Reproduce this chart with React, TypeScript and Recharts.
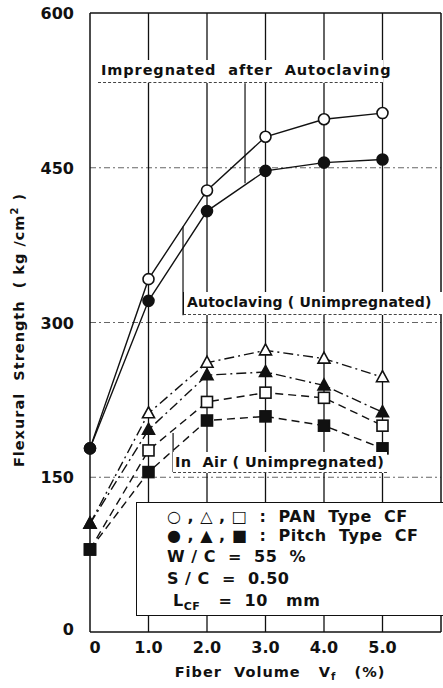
import { LineChart, Line, XAxis, YAxis, ReferenceLine } from "recharts";

const fiberVolume = [0, 1, 2, 3, 4, 5];
const panImpregnated = [178, 342, 428, 480, 497, 503];
const pitchImpregnated = [178, 321, 408, 447, 455, 458];
const panAutoclaved = [105, 212, 261, 273, 265, 247];
const pitchAutoclaved = [105, 196, 249, 252, 239, 213];
const panInAir = [80, 176, 223, 232, 227, 200];
const pitchInAir = [80, 155, 205, 209, 200, 178];

const xTicks = [0, 1, 2, 3, 4, 5];
const xTickLabels = ["0", "1.0", "2.0", "3.0", "4.0", "5.0"];
const yTicks = [0, 150, 300, 450, 600];
const gridY = [150, 300, 450];
const gridX = [1, 2, 3, 4, 5];

const data = fiberVolume.map((v, i) => ({
  v,
  panImp: panImpregnated[i],
  pitchImp: pitchImpregnated[i],
  panAuto: panAutoclaved[i],
  pitchAuto: pitchAutoclaved[i],
  panAir: panInAir[i],
  pitchAir: pitchInAir[i],
}));

const FONT = "'DejaVu Sans', sans-serif";
const INK = "#111";

function makeDot(kind: string, filled: boolean) {
  return (p: any) => {
    const { cx, cy, index } = p;
    const fill = filled ? INK : "#fff";
    const key = `${kind}-${filled}-${index}`;
    if (cx == null || cy == null) return <g key={key} />;
    if (kind === "circle") return <circle key={key} cx={cx} cy={cy} r={5.5} fill={fill} stroke={INK} strokeWidth={1.6} />;
    if (kind === "tri")
      return (
        <polygon
          key={key}
          points={`${cx},${cy - 6.5} ${cx - 6},${cy + 4.5} ${cx + 6},${cy + 4.5}`}
          fill={fill}
          stroke={INK}
          strokeWidth={1.6}
        />
      );
    return <rect key={key} x={cx - 5.5} y={cy - 5.5} width={11} height={11} fill={fill} stroke={INK} strokeWidth={1.6} />;
  };
}

const XTick = (p: any) => {
  const { x, y, payload } = p;
  const i = xTicks.indexOf(payload.value);
  return (
    <text x={x + (i === 0 ? 5 : 0)} y={y + 13} textAnchor="middle" fontFamily={FONT} fontWeight="bold" fontSize={16} fill={INK}>
      {xTickLabels[i]}
    </text>
  );
};

const YTick = (p: any) => {
  const { x, y, payload } = p;
  return (
    <text x={x - 8} y={y + 6 - (payload.value === 0 ? 3 : 0)} textAnchor="end" fontFamily={FONT} fontWeight="bold" fontSize={16} fill={INK}>
      {payload.value}
    </text>
  );
};

const labelStyle: React.CSSProperties = {
  position: "absolute",
  background: "#fff",
  fontFamily: FONT,
  fontWeight: "bold",
  fontSize: 14.5,
  color: INK,
  whiteSpace: "pre",
  lineHeight: "20px",
  letterSpacing: 0.9,
};

export default function App() {
  return (
    <div style={{ position: "absolute", left: 0, top: 0, width: 443, height: 688, overflow: "hidden", background: "#fff" }}>
      <LineChart width={443} height={688} data={data} margin={{ top: 13, right: 2, left: 0, bottom: 0 }}>
        {gridY.map((g) => (
          <ReferenceLine key={`gy${g}`} y={g} stroke="#666" strokeWidth={1} strokeDasharray="6 3 2 3" />
        ))}
        {gridX.map((g) => (
          <ReferenceLine key={`gx${g}`} x={g} stroke={INK} strokeWidth={1.3} />
        ))}
        <ReferenceLine y={600} stroke={INK} strokeWidth={1.5} />
        <ReferenceLine x={6} stroke={INK} strokeWidth={1.5} />
        <ReferenceLine segment={[{ x: 2.65, y: 532 }, { x: 2.65, y: 435 }]} stroke={INK} strokeWidth={1.2} />
        <ReferenceLine segment={[{ x: 1.59, y: 393 }, { x: 1.59, y: 307 }]} stroke={INK} strokeWidth={1.2} />
        <ReferenceLine segment={[{ x: 1.42, y: 193 }, { x: 1.42, y: 155 }]} stroke={INK} strokeWidth={1.2} />
        <XAxis
          dataKey="v"
          type="number"
          domain={[0, 6]}
          ticks={xTicks}
          height={56}
          tick={<XTick />}
          tickLine={false}
          axisLine={{ stroke: INK, strokeWidth: 1.5 }}
        />
        <YAxis
          type="number"
          domain={[0, 600]}
          ticks={yTicks}
          width={90}
          tick={<YTick />}
          tickLine={false}
          axisLine={{ stroke: INK, strokeWidth: 1.5 }}
        />
        <Line dataKey="panImp" stroke={INK} strokeWidth={1.4} dot={makeDot("circle", false)} isAnimationActive={false} />
        <Line dataKey="pitchImp" stroke={INK} strokeWidth={1.4} dot={makeDot("circle", true)} isAnimationActive={false} />
        <Line dataKey="panAuto" stroke={INK} strokeWidth={1.4} strokeDasharray="10 4 2 4" dot={makeDot("tri", false)} isAnimationActive={false} />
        <Line dataKey="pitchAuto" stroke={INK} strokeWidth={1.4} strokeDasharray="10 4 2 4" dot={makeDot("tri", true)} isAnimationActive={false} />
        <Line dataKey="panAir" stroke={INK} strokeWidth={1.4} strokeDasharray="8 5" dot={makeDot("sq", false)} isAnimationActive={false} />
        <Line dataKey="pitchAir" stroke={INK} strokeWidth={1.4} strokeDasharray="8 5" dot={makeDot("sq", true)} isAnimationActive={false} />
      </LineChart>

      <div style={{ ...labelStyle, left: 98, top: 60, width: 282, height: 22, borderBottom: "1px dashed #444", paddingLeft: 3 }}>
        {"Impregnated  after  Autoclaving"}
      </div>
      <div
        style={{
          ...labelStyle,
          left: 183,
          top: 292,
          width: 265,
          height: 22,
          borderLeft: "1px solid #111",
          borderBottom: "1px dashed #444",
          paddingLeft: 3,
          fontSize: 14,
          letterSpacing: 0.2,
        }}
      >
        {"Autoclaving ( Unimpregnated)"}
      </div>
      <div style={{ ...labelStyle, left: 173, top: 452, width: 212, height: 20, borderBottom: "1px dashed #444", paddingLeft: 2, letterSpacing: 0.4 }}>
        {"In  Air ( Unimpregnated)"}
      </div>

      <div
        style={{
          position: "absolute",
          left: 136,
          top: 502,
          width: 330,
          height: 114,
          background: "#fff",
          border: "1.5px solid #111",
          fontFamily: FONT,
          fontWeight: "bold",
          fontSize: 16,
          color: INK,
          whiteSpace: "pre",
          letterSpacing: 0.5,
          lineHeight: "22px",
          paddingLeft: 30,
          paddingTop: 4,
          boxSizing: "border-box",
        }}
      >
        <div style={{ lineHeight: "19px" }}>{"○ , △ , □  :  PAN  Type  CF"}</div>
        <div style={{ lineHeight: "20px" }}>{"● , ▲ , ■  :  Pitch  Type  CF"}</div>
        <div>{"W / C  =  55  %"}</div>
        <div>{"S / C  =  0.50"}</div>
        <div>
          {" L"}
          <sub style={{ fontSize: 11, fontWeight: "bold" }}>CF</sub>
          {"   =  10   mm"}
        </div>
      </div>

      <div
        style={{
          position: "absolute",
          left: 18,
          top: 330,
          transform: "translate(-50%, -50%) rotate(-90deg)",
          fontFamily: FONT,
          fontWeight: "bold",
          fontSize: 14.5,
          color: INK,
          whiteSpace: "pre",
          letterSpacing: 1,
        }}
      >
        Flexural  Strength  ( kg /cm<sup style={{ fontSize: 10 }}>2</sup> )
      </div>
      <div
        style={{
          position: "absolute",
          left: 280,
          top: 673,
          transform: "translate(-50%, -50%)",
          fontFamily: FONT,
          fontWeight: "bold",
          fontSize: 14.5,
          color: INK,
          whiteSpace: "pre",
          letterSpacing: 1,
        }}
      >
        Fiber  Volume   V<sub style={{ fontSize: 10 }}>f</sub>   (%)
      </div>
    </div>
  );
}
